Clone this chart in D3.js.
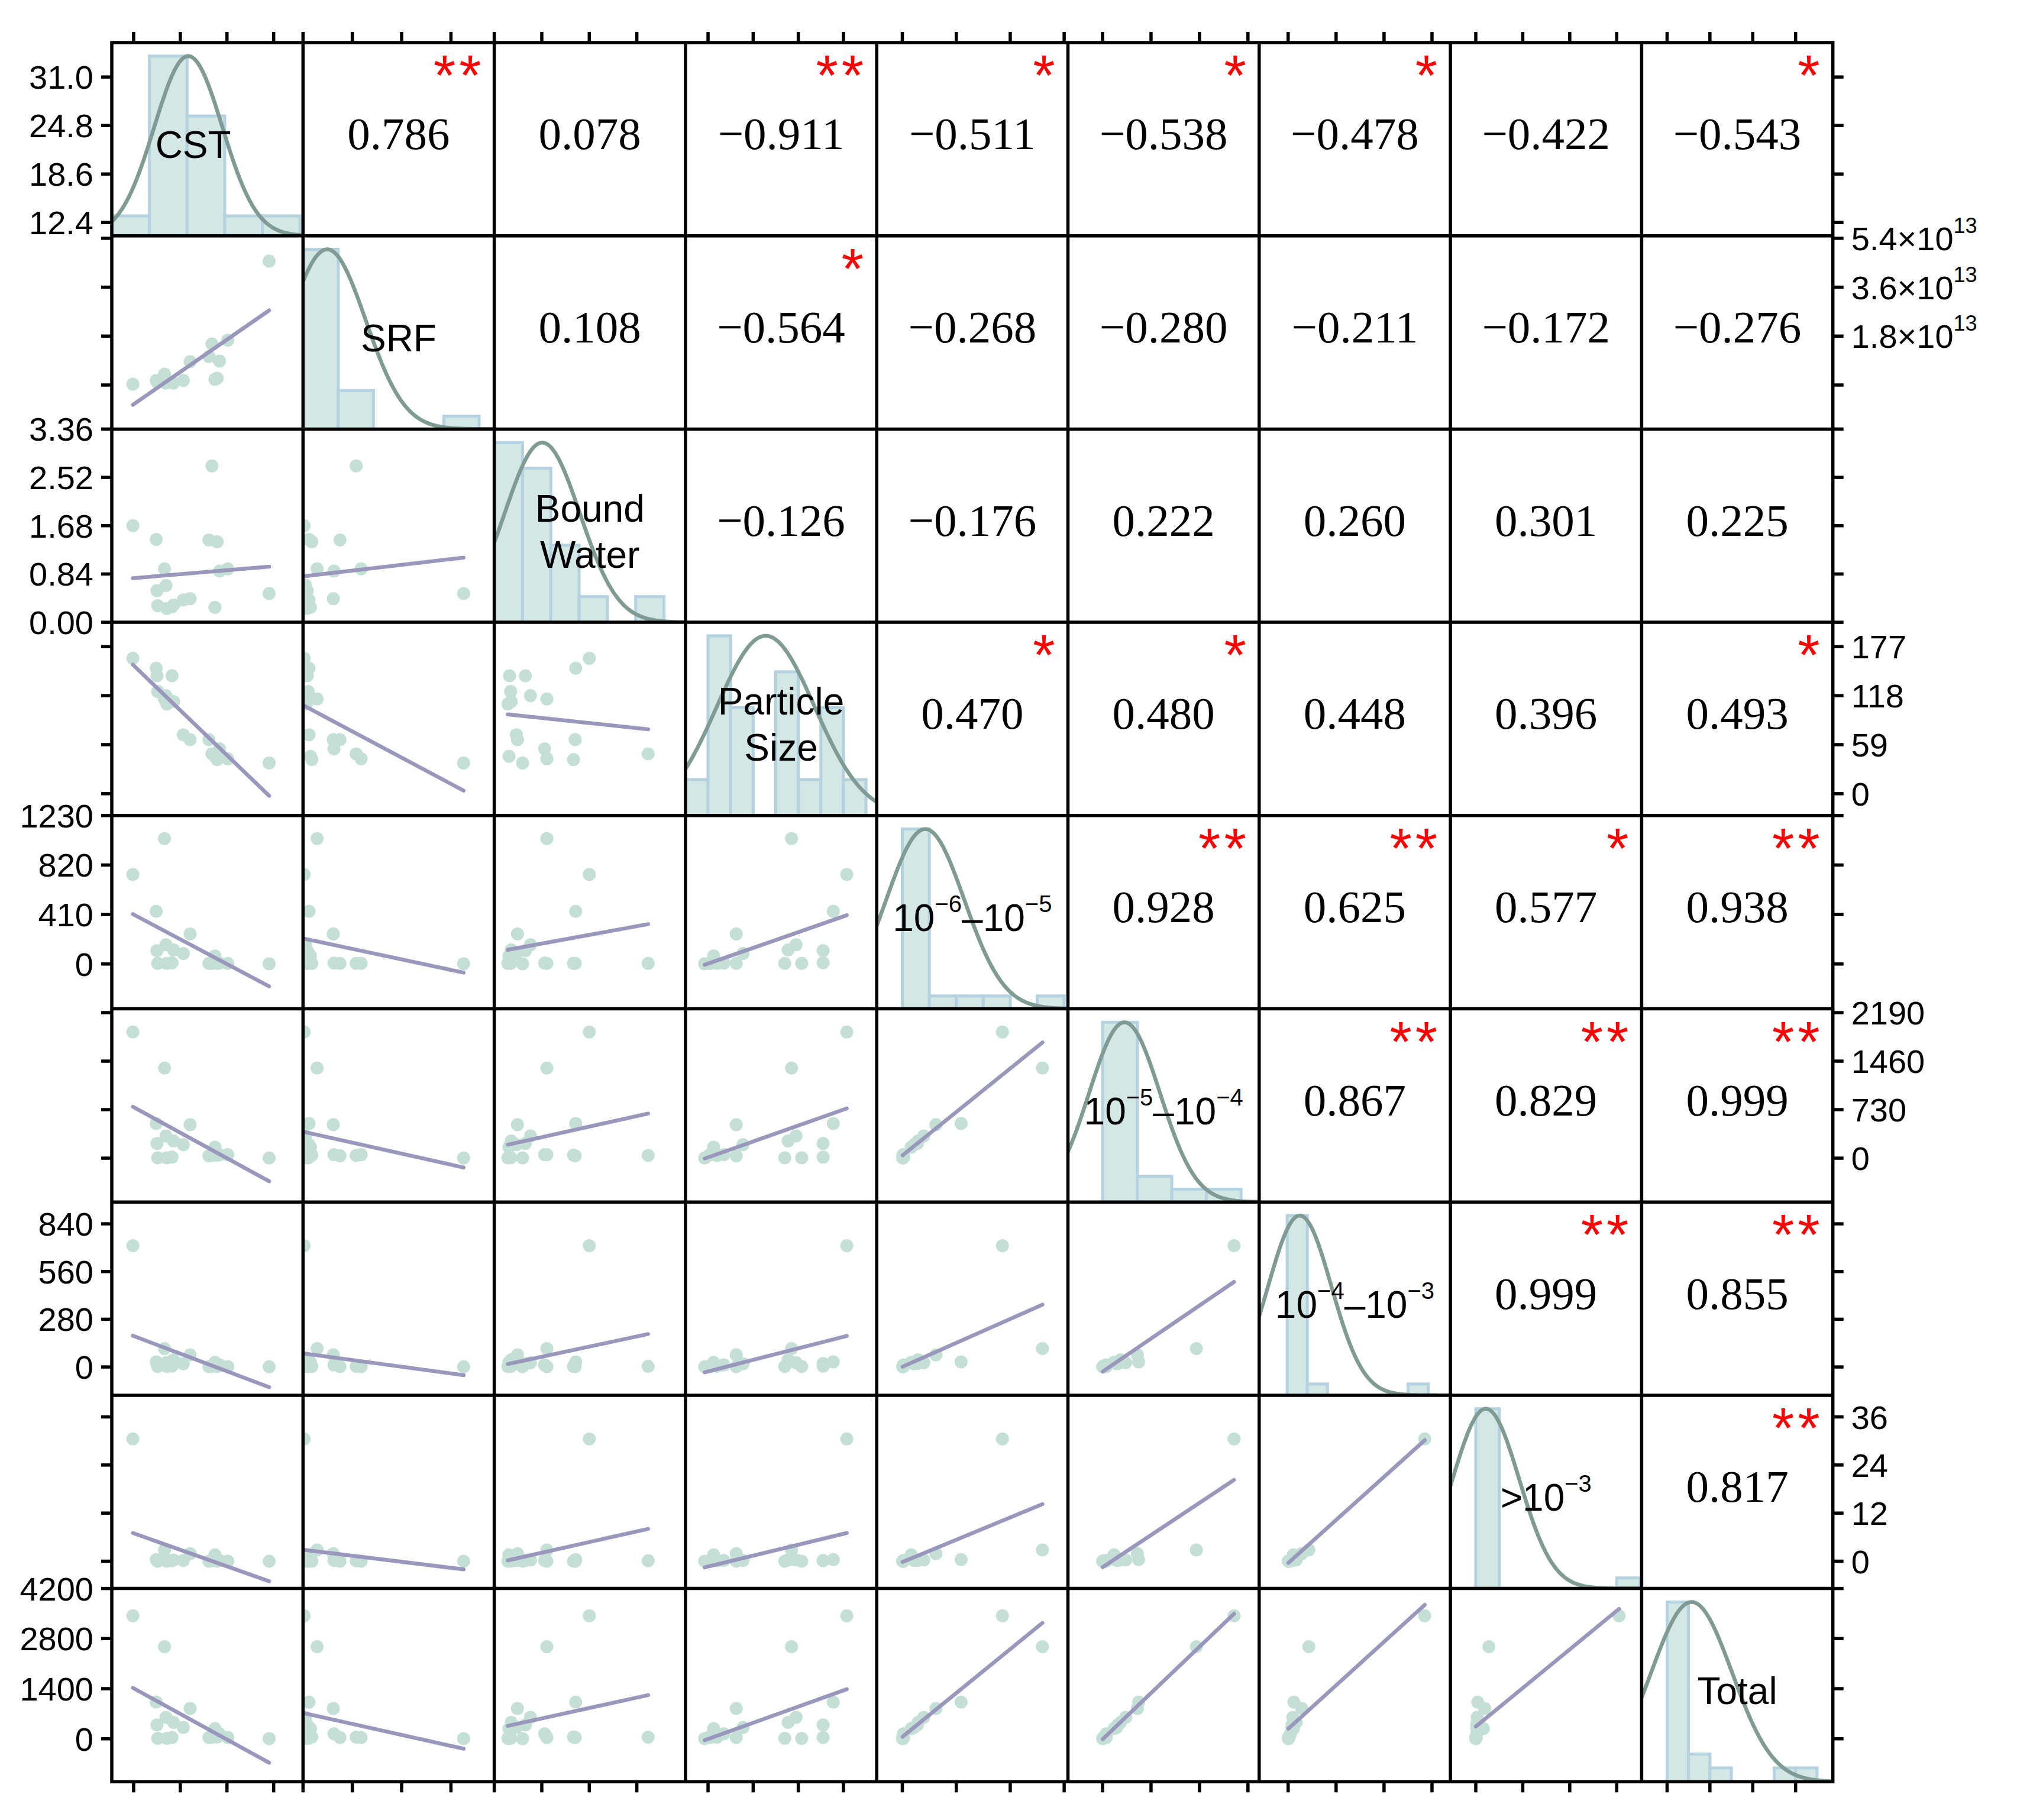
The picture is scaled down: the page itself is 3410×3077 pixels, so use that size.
<!DOCTYPE html>
<html>
<head>
<meta charset="utf-8">
<title>Correlation matrix</title>
<script src="https://d3js.org/d3.v7.min.js"></script>
<style>
  body { margin: 0; background: #ffffff; }
  svg { display: block; }
</style>
</head>
<body>
<div id="container"></div>
<script>
// one value per sample (18 samples)
var cst          = [12.3, 15.4, 15.5, 15.6, 16.5, 16.7, 16.8, 17.5, 17.7, 19.0, 19.9, 22.4, 22.8, 23.2, 23.5, 23.8, 24.9, 30.4];
var srf          = [0.03e13, 0.17e13, 0.12e13, 0.15e13, 0.40e13, 0.07e13, 0.10e13, 0.09e13, 0.07e13, 0.17e13, 0.86e13, 1.05e13, 1.51e13, 0.21e13, 0.25e13, 0.88e13, 1.65e13, 4.56e13];
var boundWater   = [1.68, 1.44, 0.55, 0.29, 0.93, 0.64, 0.24, 0.27, 0.30, 0.39, 0.41, 1.43, 2.72, 0.26, 1.40, 0.89, 0.93, 0.50];
var particleSize = [163, 151, 142, 123, 114, 118, 108, 142, 111, 71, 65, 65, 48, 45, 41, 54, 42, 37];
var pore6to5     = [742, 436, 111, 5, 1039, 159, 5, 10, 117, 87, 249, 5, 5, 66, 5, 8, 5, 2];
var pore5to4     = [1899, 521, 221, 5, 1355, 334, 5, 15, 259, 203, 503, 35, 40, 166, 45, 53, 53, 2];
var pore4to3     = [712, 30, 20, 3, 108, 25, 3, 5, 42, 19, 71, 2, 4, 27, 3, 12, 2, 1];
var poreAbove3   = [30.5, 0.4, 0.2, 0, 2.8, 0.3, 0, 0.1, 0.3, 0.2, 1.9, 0, 0.1, 1.6, 0, 0.2, 0, 0];
var total        = [3438, 1024, 388, 13, 2575, 600, 10, 37, 458, 317, 847, 37, 45, 283, 50, 140, 37, 5];

// diagonal labels: "|" breaks a line, {..} is superscript
var varNames = ["CST", "SRF", "Bound|Water", "Particle|Size", "10{−6}–10{−5}", "10{−5}–10{−4}", "10{−4}–10{−3}", ">10{−3}", "Total"];

// histogram bins
var histStart  = [9.5, 0, 0, 20, 0, 0, -5, 0, 0];
var histWidth  = [5, 1e13, 0.5, 20, 200, 500, 105, 5, 500];
var histCounts = [
  [1, 9, 6, 1, 1],
  [14, 3, 0, 0, 1],
  [7, 6, 3, 1, 0, 1],
  [1, 5, 3, 0, 4, 1, 3, 1],
  [14, 1, 1, 1, 0, 1],
  [14, 2, 1, 1],
  [16, 1, 0, 0, 0, 0, 1],
  [17, 0, 0, 0, 0, 0, 1],
  [13, 2, 1, 0, 0, 1, 1]
];

// Pearson r, upper triangle, row by row
var corrValues = [
  [0.786, 0.078, -0.911, -0.511, -0.538, -0.478, -0.422, -0.543],
  [0.108, -0.564, -0.268, -0.280, -0.211, -0.172, -0.276],
  [-0.126, -0.176, 0.222, 0.260, 0.301, 0.225],
  [0.470, 0.480, 0.448, 0.396, 0.493],
  [0.928, 0.625, 0.577, 0.938],
  [0.867, 0.829, 0.999],
  [0.999, 0.855],
  [0.817]
];
var corrStars = [
  ["**", "", "**", "*", "*", "*", "", "*"],
  ["", "*", "", "", "", "", ""],
  ["", "", "", "", "", ""],
  ["*", "*", "", "", "*"],
  ["**", "**", "*", "**"],
  ["**", "**", "**"],
  ["**", "**"],
  ["**"]
];

// axes
var xDomains = [[9.5, 34.9], [0, 5.43e13], [0, 3.38], [20, 189.5], [-190, 1228], [-500, 2262], [-151, 846], [-5.4, 35.3], [-594, 3870]];
var xTicks = [[12.4, 18.6, 24.8, 31.0], [0, 1.4e13, 2.8e13, 4.2e13], [0, 0.84, 1.68, 2.52], [40, 80, 120, 160],
              [0, 400, 800, 1200], [0, 700, 1400, 2100], [0, 250, 500, 750], [0, 10, 20, 30], [0, 1000, 2000, 3000]];
var yDomains = [[10.7, 35.4], [-1.62e13, 5.49e13], [0, 3.36], [-26.3, 206.3], [-371, 1230], [-660, 2248], [-166, 968], [-6.8, 41.4], [-1200, 4200]];
var yTicks = [[12.4, 18.6, 24.8, 31.0], [0, 1.8e13, 3.6e13, 5.4e13], [0, 0.84, 1.68, 2.52, 3.36], [0, 59, 118, 177],
              [0, 410, 820, 1230], [0, 730, 1460, 2190], [0, 280, 560, 840], [0, 12, 24, 36], [0, 1400, 2800, 4200]];
var yTickLabels = [["12.4", "18.6", "24.8", "31.0"], ["", "1.8×10{13}", "3.6×10{13}", "5.4×10{13}"],
                   ["0.00", "0.84", "1.68", "2.52", "3.36"], ["0", "59", "118", "177"], ["0", "410", "820", "1230"],
                   ["0", "730", "1460", "2190"], ["0", "280", "560", "840"], ["0", "12", "24", "36"], ["0", "1400", "2800", "4200"]];

var allVars = [cst, srf, boundWater, particleSize, pore6to5, pore5to4, pore4to3, poreAbove3, total];

var W = 3410, H = 3077;
var gridLeft = 189, gridTop = 72, cellW = 323.3, cellH = 326.7;
var nVar = allVars.length;
var gridRight = gridLeft + nVar * cellW, gridBottom = gridTop + nVar * cellH;
var tickLen = 18;
var frameWidth = 5.5;
var sansFont = "'Liberation Sans', Arial, sans-serif";
var serifFont = "'Liberation Serif', 'Times New Roman', serif";

var svg = d3.select("#container").append("svg")
  .attr("width", W).attr("height", H)
  .style("background", "#ffffff");

svg.append("defs").append("clipPath").attr("id", "cellClip")
  .append("rect").attr("x", 0).attr("y", 0).attr("width", cellW).attr("height", cellH);

// write text that may hold {superscript} parts
function richText(sel, str, size, supSize, raise) {
  var parts = str.split(/(\{[^}]*\})/).filter(function(p) { return p.length; });
  var shifted = false;
  parts.forEach(function(p) {
    if (p.charAt(0) == "{") {
      sel.append("tspan").attr("font-size", supSize).attr("dy", -raise).text(p.slice(1, -1));
      shifted = true;
    } else {
      sel.append("tspan").attr("font-size", size).attr("dy", shifted ? raise : 0).text(p);
      shifted = false;
    }
  });
}

function fitLine(xs, ys) {
  var mx = d3.mean(xs), my = d3.mean(ys);
  var sxy = d3.sum(xs, function(v, k) { return (v - mx) * (ys[k] - my); });
  var sxx = d3.sum(xs, function(v) { return (v - mx) * (v - mx); });
  var b = sxy / sxx;
  return { a: my - b * mx, b: b };
}

var fmt = d3.format(".3f");
var cells = svg.append("g");

for (var i = 0; i < nVar; i++) {
  for (var j = 0; j < nVar; j++) {
    var g = cells.append("g")
      .attr("transform", "translate(" + (gridLeft + j * cellW) + "," + (gridTop + i * cellH) + ")");
    var inner = g.append("g").attr("clip-path", "url(#cellClip)");
    var x = d3.scaleLinear().domain(xDomains[j]).range([0, cellW]);
    var y = d3.scaleLinear().domain(yDomains[i]).range([cellH, 0]);

    if (i > j) {
      // scatter + linear fit
      var xs = allVars[j], ys = allVars[i];
      var pts = xs.map(function(v, k) { return [v, ys[k]]; });
      inner.selectAll("circle").data(pts).enter().append("circle")
        .attr("cx", function(d) { return x(d[0]); })
        .attr("cy", function(d) { return y(d[1]); })
        .attr("r", 11)
        .attr("fill", "#c4dfd6");
      var fit = fitLine(xs, ys);
      var ext = d3.extent(xs);
      inner.append("path")
        .datum(ext)
        .attr("d", d3.line()
          .x(function(d) { return x(d); })
          .y(function(d) { return y(fit.a + fit.b * d); }))
        .attr("fill", "none")
        .attr("stroke", "#9a97bd")
        .attr("stroke-width", 6.5)
        .attr("stroke-linecap", "round");
    } else if (i == j) {
      // histogram + normal curve
      var counts = histCounts[i];
      var maxC = d3.max(counts);
      var yh = d3.scaleLinear().domain([0, maxC / 0.93]).range([cellH, 0]);
      var bins = counts.map(function(c, b) {
        return { x0: histStart[i] + b * histWidth[i], x1: histStart[i] + (b + 1) * histWidth[i], c: c };
      }).filter(function(d) { return d.c > 0; });
      inner.selectAll("rect").data(bins).enter().append("rect")
        .attr("x", function(d) { return x(d.x0); })
        .attr("width", function(d) { return x(d.x1) - x(d.x0); })
        .attr("y", function(d) { return yh(d.c); })
        .attr("height", function(d) { return yh(0) - yh(d.c); })
        .attr("fill", "#d3e7e4")
        .attr("stroke", "#b4d2e0")
        .attr("stroke-width", 5);

      var vals = allVars[i];
      var m = d3.mean(vals), s = d3.deviation(vals);
      var xd = x.domain();
      var xsCurve = d3.range(0, 241).map(function(k) { return xd[0] + (xd[1] - xd[0]) * k / 240; });
      inner.append("path")
        .datum(xsCurve)
        .attr("d", d3.line()
          .x(function(d) { return x(d); })
          .y(function(d) { var z = (d - m) / s; return yh(maxC * Math.exp(-0.5 * z * z)); }))
        .attr("fill", "none")
        .attr("stroke", "#7f9b94")
        .attr("stroke-width", 6.5);

      var lines = varNames[i].split("|");
      var lineGap = 78;
      lines.forEach(function(ln, k) {
        var t = g.append("text")
          .attr("x", cellW / 2 + (i == 0 ? -24 : 0))
          .attr("y", cellH / 2 + 10 + (k - (lines.length - 1) / 2) * lineGap)
          .attr("text-anchor", "middle")
          .attr("dominant-baseline", "central")
          .attr("font-family", sansFont)
          .attr("fill", "#000");
        richText(t, ln, 64, 40, 24);
      });
    } else {
      // correlation coefficient + significance stars
      var r = corrValues[i][j - i - 1];
      g.append("text")
        .attr("x", cellW / 2)
        .attr("y", cellH / 2 - 9)
        .attr("text-anchor", "middle")
        .attr("dominant-baseline", "central")
        .attr("font-family", serifFont)
        .attr("font-size", 77)
        .attr("fill", "#000")
        .text(fmt(r));
      var st = corrStars[i][j - i - 1];
      if (st) {
        g.append("text")
          .attr("x", cellW - 16)
          .attr("y", 88)
          .attr("text-anchor", "end")
          .attr("font-family", sansFont)
          .attr("font-size", 96)
          .attr("letter-spacing", 6)
          .attr("fill", "#ff0000")
          .text(st);
      }
    }
  }
}

// outer ticks and tick labels
var axes = svg.append("g").attr("stroke", "#000").attr("stroke-width", frameWidth);
for (var i = 0; i < nVar; i++) {
  var y0 = gridTop + i * cellH;
  var ysc = d3.scaleLinear().domain(yDomains[i]).range([y0 + cellH, y0]);
  var onLeft = (i % 2 == 0);
  yTicks[i].forEach(function(v, k) {
    axes.append("line").attr("x1", gridLeft - tickLen).attr("x2", gridLeft).attr("y1", ysc(v)).attr("y2", ysc(v));
    axes.append("line").attr("x1", gridRight).attr("x2", gridRight + tickLen).attr("y1", ysc(v)).attr("y2", ysc(v));
    var lab = yTickLabels[i][k];
    if (!lab) return;
    var t = svg.append("text")
      .attr("x", onLeft ? gridLeft - tickLen - 13 : gridRight + tickLen + 13)
      .attr("y", ysc(v))
      .attr("text-anchor", onLeft ? "end" : "start")
      .attr("dominant-baseline", "central")
      .attr("font-family", sansFont)
      .attr("fill", "#000");
    richText(t, lab, 56, 36, 22);
  });
}
for (var j = 0; j < nVar; j++) {
  var x0 = gridLeft + j * cellW;
  var xsc = d3.scaleLinear().domain(xDomains[j]).range([x0, x0 + cellW]);
  xTicks[j].forEach(function(v) {
    axes.append("line").attr("x1", xsc(v)).attr("x2", xsc(v)).attr("y1", gridTop - tickLen).attr("y2", gridTop);
    axes.append("line").attr("x1", xsc(v)).attr("x2", xsc(v)).attr("y1", gridBottom).attr("y2", gridBottom + tickLen);
  });
}

// panel grid
var grid = svg.append("g").attr("stroke", "#000").attr("stroke-width", frameWidth);
for (var k = 1; k < nVar; k++) {
  grid.append("line").attr("x1", gridLeft + k * cellW).attr("x2", gridLeft + k * cellW).attr("y1", gridTop).attr("y2", gridBottom);
  grid.append("line").attr("x1", gridLeft).attr("x2", gridRight).attr("y1", gridTop + k * cellH).attr("y2", gridTop + k * cellH);
}
grid.append("rect").attr("x", gridLeft).attr("y", gridTop).attr("width", gridRight - gridLeft).attr("height", gridBottom - gridTop)
  .attr("fill", "none");
</script>
</body>
</html>
